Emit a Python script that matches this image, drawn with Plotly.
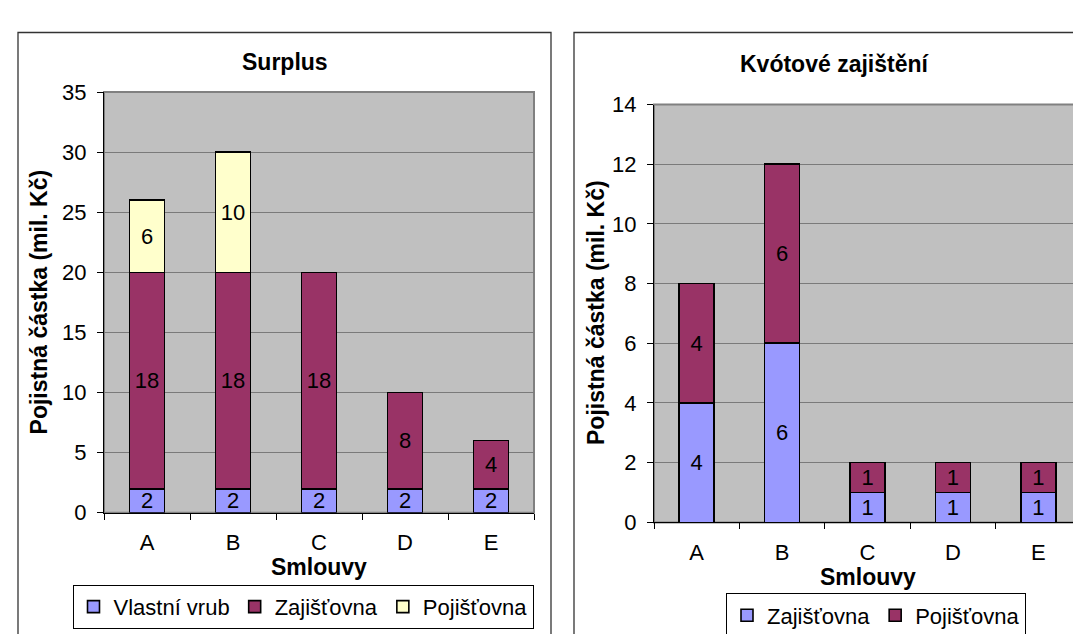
import plotly.graph_objects as go

W, H = 1081, 634

categories = ["A", "B", "C", "D", "E"]

# Left chart: Surplus
surplus_vlastni = [2, 2, 2, 2, 2]
surplus_zajistovna = [18, 18, 18, 8, 4]
surplus_pojistovna = [6, 10, 0, 0, 0]

# Right chart: Kvótové zajištění
kvota_zajistovna = [4, 6, 1, 1, 1]
kvota_pojistovna = [4, 6, 1, 1, 1]

left_ticks = [0, 5, 10, 15, 20, 25, 30, 35]
right_ticks = [0, 2, 4, 6, 8, 10, 12, 14]

C_BLUE = "#9999FF"
C_PLUM = "#993366"
C_CREAM = "#FFFFCC"
FONT = "Liberation Sans, Arial, sans-serif"
FS = 22
FT = 23


def px_x(v):
    return v / W


def px_y(v):
    return 1 - v / H


def nz(vals):
    return [v if v else None for v in vals]


def labels(vals):
    return [str(v) if v else "" for v in vals]


fig = go.Figure()


def add_bar(vals, name, color, xa, ya, legend):
    fig.add_trace(go.Bar(
        x=categories, y=nz(vals), name=name,
        marker=dict(color=color, line=dict(color="black", width=1.6)),
        text=labels(vals), textposition="inside", insidetextanchor="middle",
        textfont=dict(color="black", size=FS, family=FONT),
        textangle=0, constraintext="none",
        xaxis=xa, yaxis=ya, legend=legend, hoverinfo="x+y+name",
    ))


add_bar(surplus_vlastni, "Vlastní vrub", C_BLUE, "x", "y", "legend")
add_bar(surplus_zajistovna, "Zajišťovna", C_PLUM, "x", "y", "legend")
add_bar(surplus_pojistovna, "Pojišťovna", C_CREAM, "x", "y", "legend")
add_bar(kvota_zajistovna, "Zajišťovna", C_BLUE, "x2", "y2", "legend2")
add_bar(kvota_pojistovna, "Pojišťovna", C_PLUM, "x2", "y2", "legend2")

L = dict(x0=96, x1=526, y0=75, y1=513)
R = dict(x0=646, x1=1073, y0=88, y1=523)

xcommon = dict(
    type="category", showgrid=False, showline=True, linecolor="black", linewidth=1,
    ticks="outside", tickson="boundaries", ticklen=6, tickcolor="black",
    tickfont=dict(size=FS, family=FONT, color="black"), zeroline=False,
    fixedrange=True, ticklabelstandoff=10,
)
ycommon = dict(
    showgrid=True, gridcolor="#7a7a7a", gridwidth=1, showline=True,
    linecolor="black", linewidth=1, ticks="outside", ticklen=6, tickcolor="black",
    tickfont=dict(size=FS, family=FONT, color="black"), zeroline=False,
    fixedrange=True, ticklabelstandoff=6,
)

legcommon = dict(
    orientation="h", xanchor="center", yanchor="top",
    bordercolor="black", borderwidth=1, bgcolor="white", traceorder="normal",
    font=dict(size=FS, family=FONT, color="black"), itemclick=False,
    itemdoubleclick=False, itemwidth=30,
)

fig.update_layout(
    width=W, height=H, margin=dict(l=0, r=0, t=0, b=0),
    paper_bgcolor="white", plot_bgcolor="#C0C0C0",
    barmode="stack", bargap=0.59,
    font=dict(family=FONT, size=FS, color="black"),
    showlegend=True,
    xaxis=dict(xcommon, domain=[px_x(L["x0"]), px_x(L["x1"])], anchor="y"),
    yaxis=dict(ycommon, domain=[px_y(L["y1"]), px_y(L["y0"])], anchor="x",
               range=[0, 35], tickvals=left_ticks),
    xaxis2=dict(xcommon, domain=[px_x(R["x0"]), px_x(R["x1"])], anchor="y2"),
    yaxis2=dict(ycommon, domain=[px_y(R["y1"]), px_y(R["y0"])], anchor="x2",
                range=[0, 14], tickvals=right_ticks),
    legend=dict(legcommon, x=px_x(295), y=px_y(588)),
    legend2=dict(legcommon, x=px_x(868), y=px_y(597)),
)

shapes = [
    # panel borders
    dict(type="rect", xref="paper", yref="paper", x0=px_x(10), x1=px_x(543),
         y0=-0.2, y1=px_y(13), line=dict(color="#333333", width=1.3), layer="below"),
    dict(type="rect", xref="paper", yref="paper", x0=px_x(566), x1=1.2,
         y0=-0.2, y1=px_y(13), line=dict(color="#333333", width=1.3), layer="below"),
    # plot area frames
    dict(type="rect", xref="x domain", yref="y domain", x0=0, x1=1, y0=0, y1=1,
         line=dict(color="#808080", width=2), layer="below"),
    dict(type="rect", xref="x2 domain", yref="y2 domain", x0=0, x1=1, y0=0, y1=1,
         line=dict(color="#808080", width=2), layer="below"),
]
fig.update_layout(shapes=shapes)

ann = [
    dict(text="<b>Surplus</b>", x=px_x(277), y=px_y(44)),
    dict(text="<b>Kvótové zajištění</b>", x=px_x(826), y=px_y(46)),
    dict(text="<b>Smlouvy</b>", x=px_x(311), y=px_y(569)),
    dict(text="<b>Smlouvy</b>", x=px_x(860), y=px_y(580)),
    dict(text="<b>Pojistná částka (mil. Kč)</b>", x=px_x(31), y=px_y(294), textangle=-90),
    dict(text="<b>Pojistná částka (mil. Kč)</b>", x=px_x(588), y=px_y(305), textangle=-90),
]
for a in ann:
    a.update(xref="paper", yref="paper", showarrow=False, xanchor="center",
             yanchor="middle", font=dict(size=FT, family=FONT, color="black"))
fig.update_layout(annotations=ann)

fig.write_html("out.html")
